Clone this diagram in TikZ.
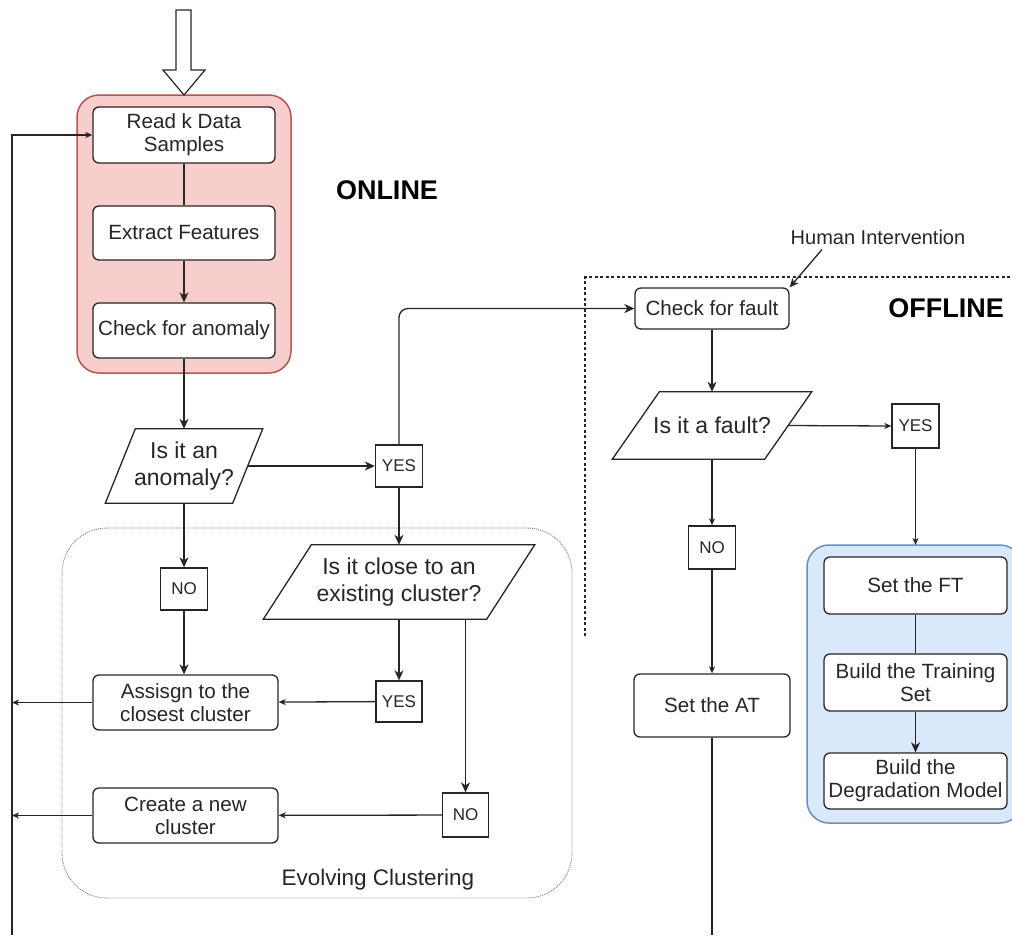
\documentclass[tikz,border=0pt]{standalone}
\usepackage{fontspec}
\setmainfont{Liberation Sans}
\usetikzlibrary{arrows.meta,calc}

\definecolor{inkc}{HTML}{262626}
\definecolor{redfill}{HTML}{F8CECC}
\definecolor{redline}{HTML}{B85450}
\definecolor{bluefill}{HTML}{DAE8FC}
\definecolor{blueline}{HTML}{6C8EBF}

% draws a right-leaning parallelogram around a named node
\newcommand\paraoutline[2]{%
  \draw[shapeline] ($(#1.north west)+(#2,0)$) -- ($(#1.north east)+(#2,0)$)
    -- ($(#1.south east)+(-#2,0)$) -- ($(#1.south west)+(-#2,0)$) -- cycle;}

\begin{document}
\begin{tikzpicture}[x=1pt,y=-1pt,
  txt/.style={text=inkc, font=\fontsize{20.6}{23}\selectfont, align=center, inner sep=0pt},
  shapeline/.style={draw=inkc, line width=1.3pt},
  proc/.style={txt, shapeline, rounded corners=6pt, fill=white},
  decision/.style={txt, font=\fontsize{23}{27}\selectfont},
  flag/.style={txt, shapeline, fill=white, font=\fontsize{17}{20}\selectfont},
  conn/.style={draw=inkc, line width=1.3pt},
  arr/.style={conn, -{Stealth[length=10pt,width=9pt,inset=3pt]}},
  arrs/.style={conn, -{Stealth[length=7pt,width=6pt,inset=2pt]}},
  title/.style={text=black, font=\fontsize{27}{30}\selectfont\bfseries, inner sep=0pt}
]
\useasboundingbox (0,0) rectangle (1012,935);

% ---- group backgrounds ----
\draw[fill=redfill, draw=redline, line width=1.5pt, rounded corners=22pt] (77,95) rectangle (291,373);
\draw[fill=bluefill, draw=blueline, line width=1.5pt, rounded corners=22pt] (807,545) rectangle (1022,823);
\draw[draw=gray, line width=0.9pt, dash pattern=on 1pt off 1pt, rounded corners=45pt] (62,528) rectangle (572,898);
\draw[draw=inkc, line width=1.2pt, dash pattern=on 3pt off 2.5pt] (585,636) -- (585,277) -- (1012,277);

% ---- input arrow ----
\draw[shapeline, fill=white, line width=1.2pt] (176,10) -- (176,70) -- (163,70) -- (184,95)
  -- (205,70) -- (191,70) -- (191,10) -- cycle;

% ---- online part ----
\node[proc, minimum width=182pt, minimum height=56pt] (read) at (184,135) {Read k Data\\Samples};
\node[proc, minimum width=182pt, minimum height=54pt] (extract) at (184,233) {Extract Features};
\node[proc, minimum width=182pt, minimum height=55pt] (check) at (184,330.5) {Check for anomaly};

\node[decision, minimum width=127pt, minimum height=74pt] (d1) at (184,466) {Is it an\\anomaly?};
\paraoutline{d1}{15}
\node[flag, minimum width=47pt, minimum height=42pt] (yes1) at (399,466) {YES};
\node[flag, minimum width=47pt, minimum height=42pt] (no1) at (184,589) {NO};

\node[decision, minimum width=223pt, minimum height=74pt] (d2) at (399,582) {Is it close to an\\existing cluster?};
\paraoutline{d2}{24}
\node[flag, minimum width=46pt, minimum height=41pt] (yes2) at (399,701.5) {YES};
\node[flag, minimum width=46pt, minimum height=44pt] (no2) at (465.5,815) {NO};

\node[proc, minimum width=185pt, minimum height=55pt] (assign) at (185.5,702.5) {Assisgn to the\\closest cluster};
\node[proc, minimum width=185pt, minimum height=55pt] (create) at (185.5,815.5) {Create a new\\cluster};

\node[txt, font=\fontsize{22.5}{26}\selectfont] (evo) at (378,880) {Evolving Clustering};
\node[title] (online) at (387,190) {ONLINE};

% ---- offline part ----
\node[title] (offline) at (946,308) {OFFLINE};
\node[txt, font=\fontsize{20}{23}\selectfont] (human) at (878,237) {Human Intervention};
\node[proc, minimum width=154pt, minimum height=41pt] (cf) at (712,308.5) {Check for fault};
\node[decision, minimum width=152pt, minimum height=67pt] (d3) at (712,425.5) {Is it a fault?};
\paraoutline{d3}{23.5}
\node[flag, minimum width=47pt, minimum height=44pt] (yes3) at (915.5,426) {YES};
\node[flag, minimum width=47pt, minimum height=43pt] (no3) at (712,547.5) {NO};
\node[proc, minimum width=156pt, minimum height=63pt] (setat) at (712,705.5) {Set the AT};

\node[proc, minimum width=183pt, minimum height=57pt] (ft) at (915.5,585.5) {Set the FT};
\node[proc, minimum width=183pt, minimum height=57pt] (train) at (915.5,682.5) {Build the Training\\Set};
\node[proc, minimum width=183pt, minimum height=56pt] (degr) at (915.5,781) {Build the\\Degradation Model};

% ---- connectors ----
\coordinate (fb) at (12,935);
\coordinate (atend) at (712,935);

\draw[conn] (read) -- (extract);
\draw[arr] (extract) -- (check);
\draw[arr] (check) -- (d1);
\draw[arr] (d1.east) -- (yes1.west);
\draw[arr] (d1) -- (no1);
\draw[arr] (no1) -- (assign.north -| no1);
\draw[arr] (yes1) -- (d2);
\draw[arr, rounded corners=9pt] (yes1.north) |- (cf.west);
\draw[arr] (d2.south -| yes2) -- (yes2);
\draw[arr] (d2.south -| no2) -- (no2);
\draw[arrs] (yes2) -- (assign);
\draw[arrs] (no2) -- (create);
\draw[arrs] (assign.west) -- (assign.west -| fb);
\draw[arrs] (create.west) -- (create.west -| fb);
\draw[arrs] (fb) |- (read.west);

\draw[conn, -{Stealth[length=9pt,width=8pt,inset=2.5pt]}] ([xshift=-56pt,yshift=-5pt]human.south) -- (cf.north east);
\draw[arr] (cf) -- (d3);
\draw[arrs] (d3.east) -- (yes3.west);
\draw[arrs] (d3) -- (no3);
\draw[arrs] (no3) -- (setat);
\draw[conn] (setat.south) -- (atend);
\draw[arrs] (yes3.south) -- (yes3.south |- 0,545);
\draw[conn] (ft) -- (train);
\draw[arr] (train) -- (degr);
\end{tikzpicture}
\end{document}
